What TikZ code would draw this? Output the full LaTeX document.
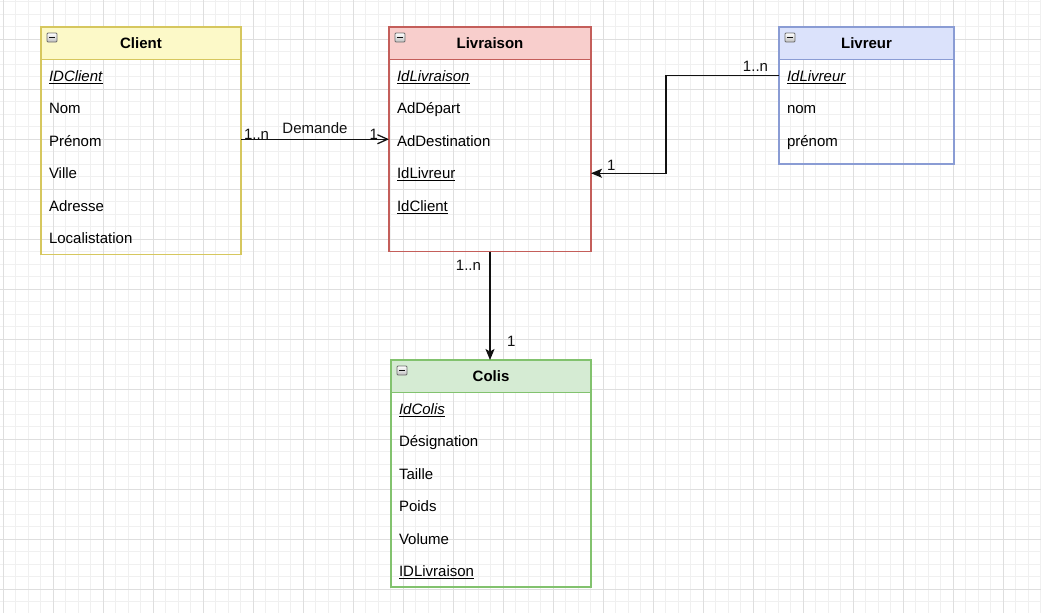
\documentclass[tikz,border=0pt]{standalone}
\usepackage{fontspec}
\setmainfont{Liberation Sans}
\usepackage{xcolor}
\usepackage{tikz}
\usetikzlibrary{arrows.meta,positioning}
\definecolor{ink}{HTML}{111111}
\definecolor{gridminor}{HTML}{F0F0F0}
\definecolor{gridmajor}{HTML}{DEDEDE}
\definecolor{clientfill}{HTML}{FCF9C8}
\definecolor{clientline}{HTML}{D6C75E}
\definecolor{livraisonfill}{HTML}{F8CECC}
\definecolor{livraisonline}{HTML}{C45E5A}
\definecolor{livreurfill}{HTML}{DBE2FB}
\definecolor{livreurline}{HTML}{8A9CD4}
\definecolor{colisfill}{HTML}{D5EBD3}
\definecolor{colisline}{HTML}{82C26E}
\tikzset{
  uml diagram/.style={
    x=1pt,
    y=-1pt,
    font=\fontsize{15}{18}\selectfont,
    line join=miter,
    outer sep=0pt
  },
  classhead/.style={
    draw=#1line,
    fill=#1fill,
    line width=1.25pt,
    minimum height=32.5pt,
    inner sep=0pt,
    anchor=north west,
    font=\fontsize{15}{18}\selectfont\bfseries
  },
  classbody/.style={
    draw=#1line,
    line width=1.25pt,
    inner sep=0pt,
    anchor=north west
  },
  attrrow/.style={
    minimum height=32.5pt,
    inner xsep=8pt,
    inner ysep=0pt,
    text height=11pt,
    text depth=0pt,
    anchor=north west
  },
  minusbox/.style={
    draw=gray!85!black,
    top color=white,
    bottom color=gray!50,
    minimum width=10pt,
    minimum height=9pt,
    inner sep=0pt,
    rounded corners=1pt,
    line width=0.8pt,
    path picture={
      \draw[ink, line width=1.4pt]
        ([xshift=2pt]path picture bounding box.west) --
        ([xshift=-2pt]path picture bounding box.east);
    }
  },
  mult/.style={
    inner sep=0pt,
    text=ink
  },
  assoc/.style={
    draw=ink,
    line width=1.25pt
  },
  openarrow/.style={
    assoc,
    -{Straight Barb[length=10pt, width=9pt]}
  },
  fillarrow/.style={
    assoc,
    -{Stealth[length=11pt, width=9pt, inset=2.5pt]}
  }
}

\begin{document}
\begin{tikzpicture}[uml diagram]
\path[use as bounding box] (0,0) rectangle (1041,613);
\fill[white] (0,0) rectangle (1041,613);
\begin{scope}[shift={(3,39)}]
\draw[gridminor, line width=1pt, step=12.5pt] (-3,-39) grid (1038,574);
\draw[gridmajor, line width=1pt, step=50pt] (-3,-39) grid (1038,574);
\end{scope}

\node[classhead=client, minimum width=200pt] (client) at (41,27) {Client};
\node[classbody=client, minimum width=200pt, minimum height=195pt, below right=0pt and 0pt of client.south west] (clientbody) {};
\node[minusbox, below right=6pt and 6pt of client.north west] (clientminus) {};
\node[attrrow, below right=0pt and 0pt of client.south west] (client1) {\underline{\textit{IDClient}}};
\node[attrrow, below right=0pt and 0pt of client1.south west] (client2) {Nom};
\node[attrrow, below right=0pt and 0pt of client2.south west] (client3) {Prénom};
\node[attrrow, below right=0pt and 0pt of client3.south west] (client4) {Ville};
\node[attrrow, below right=0pt and 0pt of client4.south west] (client5) {Adresse};
\node[attrrow, below right=0pt and 0pt of client5.south west] (client6) {Localistation};

\node[classhead=livraison, minimum width=202pt] (livraison) at (389,27) {Livraison};
\node[classbody=livraison, minimum width=202pt, minimum height=192pt, below right=0pt and 0pt of livraison.south west] (livraisonbody) {};
\node[minusbox, below right=6pt and 6pt of livraison.north west] (livraisonminus) {};
\node[attrrow, below right=0pt and 0pt of livraison.south west] (livraison1) {\underline{\textit{IdLivraison}}};
\node[attrrow, below right=0pt and 0pt of livraison1.south west] (livraison2) {AdDépart};
\node[attrrow, below right=0pt and 0pt of livraison2.south west] (livraison3) {AdDestination};
\node[attrrow, below right=0pt and 0pt of livraison3.south west] (livraison4) {\underline{IdLivreur}};
\node[attrrow, below right=0pt and 0pt of livraison4.south west] (livraison5) {\underline{IdClient}};

\node[classhead=livreur, minimum width=175pt] (livreur) at (779,27) {Livreur};
\node[classbody=livreur, minimum width=175pt, minimum height=104.5pt, below right=0pt and 0pt of livreur.south west] (livreurbody) {};
\node[minusbox, below right=6pt and 6pt of livreur.north west] (livreurminus) {};
\node[attrrow, below right=0pt and 0pt of livreur.south west] (livreur1) {\underline{\textit{IdLivreur}}};
\node[attrrow, below right=0pt and 0pt of livreur1.south west] (livreur2) {nom};
\node[attrrow, below right=0pt and 0pt of livreur2.south west] (livreur3) {prénom};

\node[classhead=colis, minimum width=200pt] (colis) at (391,360) {Colis};
\node[classbody=colis, minimum width=200pt, minimum height=194.5pt, below right=0pt and 0pt of colis.south west] (colisbody) {};
\node[minusbox, below right=6pt and 6pt of colis.north west] (colisminus) {};
\node[attrrow, below right=0pt and 0pt of colis.south west] (colis1) {\underline{\textit{IdColis}}};
\node[attrrow, below right=0pt and 0pt of colis1.south west] (colis2) {Désignation};
\node[attrrow, below right=0pt and 0pt of colis2.south west] (colis3) {Taille};
\node[attrrow, below right=0pt and 0pt of colis3.south west] (colis4) {Poids};
\node[attrrow, below right=0pt and 0pt of colis4.south west] (colis5) {Volume};
\node[attrrow, below right=0pt and 0pt of colis5.south west] (colis6) {\underline{IDLivraison}};

\draw[openarrow] ([yshift=1.5pt]clientbody.east |- client3) node[mult, anchor=base west, xshift=3pt] {1..n}
  -- node[mult, anchor=base, yshift=6pt] {Demande} ([yshift=1.5pt]livraisonbody.west |- client3)
  node[mult, anchor=base east, xshift=-11pt] {1};
\draw[fillarrow] (livreurbody.west |- livreur1) node[mult, anchor=base east, xshift=-11pt, yshift=4pt] {1..n}
  -- ++(-113,0) |- (livraisonbody.east |- livraison4)
  node[mult, anchor=base west, xshift=16pt, yshift=3pt] {1};
\draw[fillarrow] (livraisonbody.south) node[mult, anchor=base east, xshift=-9pt, yshift=-19pt] {1..n}
  -- (livraisonbody.south |- colis.north)
  node[mult, anchor=base west, xshift=17pt, yshift=14pt] {1};
\end{tikzpicture}
\end{document}
